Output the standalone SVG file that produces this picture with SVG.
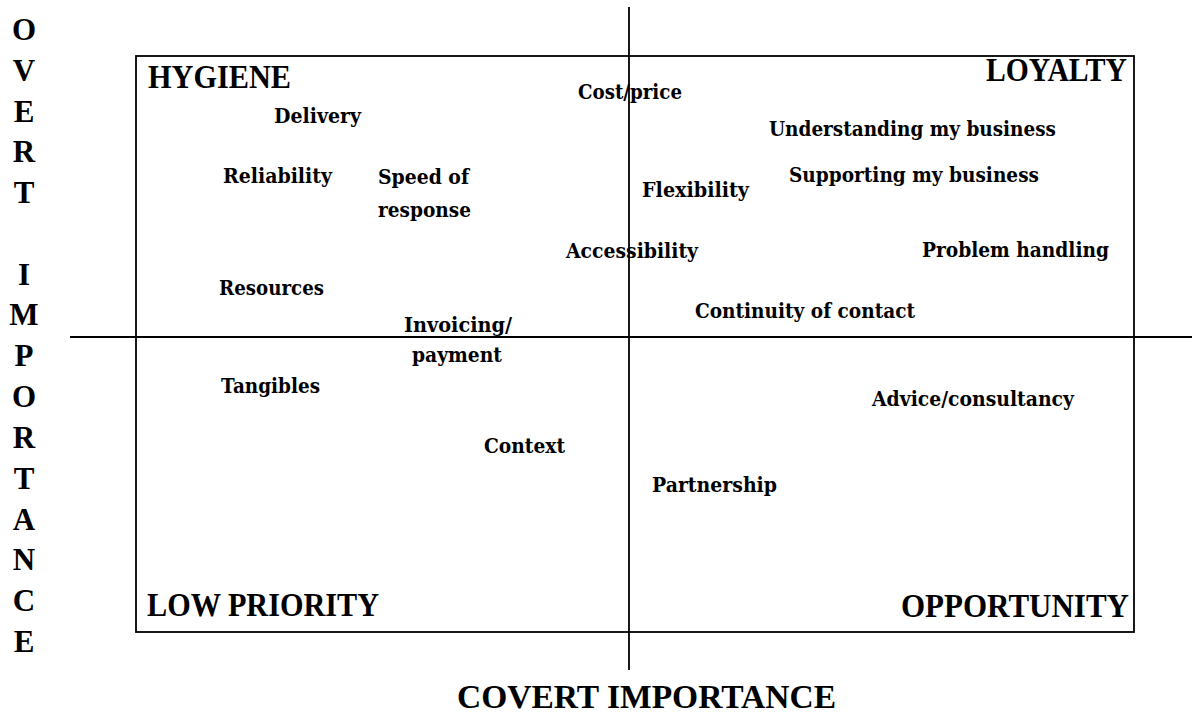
<svg xmlns="http://www.w3.org/2000/svg" width="1192" height="713" viewBox="0 0 1192 713">
<style>
.ln{stroke:#000;stroke-width:1.8;fill:none}
.hd{font-family:"Liberation Serif","Times New Roman",serif;font-weight:bold;font-size:33px;fill:#000}
.vt{font-family:"Liberation Serif","Times New Roman",serif;font-weight:bold;font-size:31px;fill:#000;text-anchor:middle}
.lb{font-family:"DejaVu Serif","Liberation Serif",serif;font-weight:bold;font-size:19.5px;fill:#000}
</style>
<rect width="1192" height="713" fill="#fff"/>
<g id="frame">
<rect class="ln" x="136" y="56" width="998" height="576"/>
</g>
<g id="connectors">
<line class="ln" x1="629" y1="7" x2="629" y2="670"/>
<line class="ln" x1="70" y1="337" x2="1192" y2="337"/>
</g>
<g id="quadrant-labels">
<text class="hd" x="148" y="88" textLength="143" lengthAdjust="spacingAndGlyphs">HYGIENE</text>
<text class="hd" x="986" y="81" textLength="141" lengthAdjust="spacingAndGlyphs">LOYALTY</text>
<text class="hd" x="147" y="616" textLength="232" lengthAdjust="spacingAndGlyphs">LOW PRIORITY</text>
<text class="hd" x="901" y="617" textLength="228" lengthAdjust="spacingAndGlyphs">OPPORTUNITY</text>
</g>
<g id="axis-x-title">
<text class="hd" x="457" y="708" textLength="379" lengthAdjust="spacingAndGlyphs">COVERT IMPORTANCE</text>
</g>
<g id="axis-y-title">
<text class="vt" x="24" y="40">O</text>
<text class="vt" x="24" y="81">V</text>
<text class="vt" x="24" y="122">E</text>
<text class="vt" x="24" y="162">R</text>
<text class="vt" x="24" y="203">T</text>
<text class="vt" x="24" y="285">I</text>
<text class="vt" x="24" y="325">M</text>
<text class="vt" x="24" y="366">P</text>
<text class="vt" x="24" y="407">O</text>
<text class="vt" x="24" y="448">R</text>
<text class="vt" x="24" y="489">T</text>
<text class="vt" x="24" y="530">A</text>
<text class="vt" x="24" y="570">N</text>
<text class="vt" x="24" y="611">C</text>
<text class="vt" x="24" y="652">E</text>
</g>
<g id="delivery"><text class="lb" x="274" y="123" textLength="87" lengthAdjust="spacingAndGlyphs">Delivery</text></g>
<g id="reliability"><text class="lb" x="223" y="183" textLength="109" lengthAdjust="spacingAndGlyphs">Reliability</text></g>
<g id="speed-of-response"><text class="lb" x="378" y="184" textLength="91" lengthAdjust="spacingAndGlyphs">Speed of</text><text class="lb" x="378" y="217" textLength="93" lengthAdjust="spacingAndGlyphs">response</text></g>
<g id="resources"><text class="lb" x="219" y="295" textLength="105" lengthAdjust="spacingAndGlyphs">Resources</text></g>
<g id="invoicing-payment"><text class="lb" x="404" y="332" textLength="108" lengthAdjust="spacingAndGlyphs">Invoicing/</text><text class="lb" x="412" y="362" textLength="90" lengthAdjust="spacingAndGlyphs">payment</text></g>
<g id="tangibles"><text class="lb" x="221" y="393" textLength="99" lengthAdjust="spacingAndGlyphs">Tangibles</text></g>
<g id="context"><text class="lb" x="484" y="453" textLength="81" lengthAdjust="spacingAndGlyphs">Context</text></g>
<g id="cost-price"><text class="lb" x="578" y="99" textLength="104" lengthAdjust="spacingAndGlyphs">Cost/price</text></g>
<g id="understanding"><text class="lb" x="769" y="136" textLength="287" lengthAdjust="spacingAndGlyphs">Understanding my business</text></g>
<g id="supporting"><text class="lb" x="789" y="182" textLength="250" lengthAdjust="spacingAndGlyphs">Supporting my business</text></g>
<g id="flexibility"><text class="lb" x="642" y="197" textLength="107" lengthAdjust="spacingAndGlyphs">Flexibility</text></g>
<g id="accessibility"><text class="lb" x="566" y="258" textLength="132" lengthAdjust="spacingAndGlyphs">Accessibility</text></g>
<g id="problem-handling"><text class="lb" x="922" y="257" textLength="187" lengthAdjust="spacingAndGlyphs">Problem handling</text></g>
<g id="continuity"><text class="lb" x="695" y="318" textLength="220" lengthAdjust="spacingAndGlyphs">Continuity of contact</text></g>
<g id="advice"><text class="lb" x="872" y="406" textLength="202" lengthAdjust="spacingAndGlyphs">Advice/consultancy</text></g>
<g id="partnership"><text class="lb" x="652" y="492" textLength="125" lengthAdjust="spacingAndGlyphs">Partnership</text></g>
</svg>
